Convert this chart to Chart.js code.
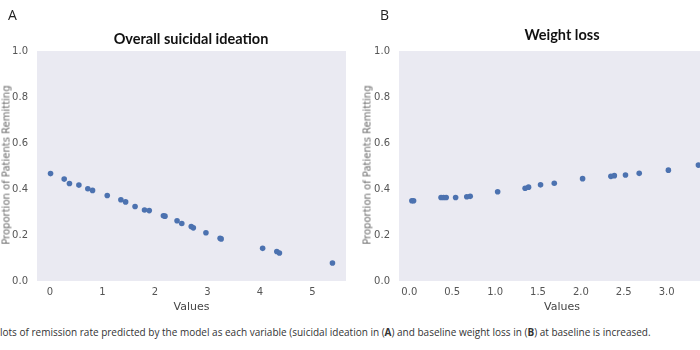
<!DOCTYPE html>
<html><head><meta charset="utf-8">
<script src="https://cdn.jsdelivr.net/npm/chart.js@4/dist/chart.umd.min.js"></script>
<style>
html,body{margin:0;padding:0;width:700px;height:350px;overflow:hidden;background:#fff;position:relative;}
.cv{position:absolute;top:0;}
.t{position:absolute;white-space:nowrap;}
.panel{font-family:"Open Sans";font-size:14px;color:#222;}
.title{font-family:Lato;font-weight:700;font-size:14.5px;color:#111;transform:translateX(-50%);}
.ytitle{font-family:"DejaVu Sans";font-size:10px;color:#6a6a6a;transform:translate(-50%,-50%) rotate(-90deg);}
.caption{font-family:"Open Sans";font-size:10px;color:#333;}
</style></head>
<body>
<canvas id="cA" class="cv" style="left:0px" width="350" height="320"></canvas>
<canvas id="cB" class="cv" style="left:362px" width="367" height="320"></canvas>
<div class="t panel" style="left:8px;top:5px;">A</div>
<div class="t panel" style="left:380px;top:5px;">B</div>
<div class="t title" style="left:191px;top:30px;">Overall suicidal ideation</div>
<div class="t title" style="left:562px;top:26px;">Weight loss</div>
<div class="t ytitle" style="left:6px;top:165px;">Proportion of Patients Remitting</div>
<div class="t ytitle" style="left:367px;top:165px;">Proportion of Patients Remitting</div>
<div class="t caption" style="left:-6px;top:325px;">Plots of remission rate predicted by the model as each variable (suicidal ideation in (<b>A</b>) and baseline weight loss in (<b>B</b>) at baseline is increased.</div>
<script>
// Panel A: overall suicidal ideation
const suicidalX = [0.01,0.27,0.37,0.55,0.72,0.81,1.09,1.35,1.44,1.62,1.80,1.89,2.16,2.19,2.42,2.51,2.69,2.73,2.97,3.24,3.26,4.05,4.32,4.37,5.38];
const suicidalY = [0.467,0.443,0.424,0.417,0.401,0.394,0.372,0.353,0.344,0.324,0.309,0.306,0.284,0.282,0.262,0.250,0.237,0.231,0.210,0.186,0.183,0.142,0.128,0.122,0.078];
// Panel B: weight loss
const weightX = [0.03,0.05,0.37,0.40,0.43,0.54,0.67,0.71,1.03,1.35,1.39,1.53,1.69,2.02,2.35,2.39,2.52,2.68,3.02,3.37];
const weightY = [0.349,0.349,0.363,0.363,0.363,0.363,0.366,0.368,0.388,0.403,0.408,0.418,0.425,0.445,0.455,0.458,0.461,0.468,0.482,0.504];
// Tick labels
const yTicks = [0.0,0.2,0.4,0.6,0.8,1.0];
const xTicksA = [0,1,2,3,4,5];
const xTicksB = [0.0,0.5,1.0,1.5,2.0,2.5,3.0];

const bgPlugin = {
  id:'bg',
  beforeDraw(chart){
    const a = chart.chartArea, c = chart.ctx;
    c.save(); c.fillStyle = '#EAEAF2'; c.fillRect(a.left, a.top, a.right-a.left, a.bottom-a.top); c.restore();
  }
};

function makeChart(id, xs, ys, xTicks, xmin, xmax, decimals){
  const pts = xs.map((x,i)=>({x:x, y:ys[i]}));
  return new Chart(document.getElementById(id), {
    type:'scatter',
    data:{datasets:[{data:pts, backgroundColor:'#4C72B0', borderWidth:0, pointRadius:2.8, pointHoverRadius:2.8}]},
    plugins:[bgPlugin],
    options:{
      responsive:false, animation:false, devicePixelRatio:1,
      layout:{padding:{top:51, right:4, left:0, bottom:6}},
      plugins:{legend:{display:false}, tooltip:{enabled:false}},
      scales:{
        x:{type:'linear', min:xmin, max:xmax,
          afterBuildTicks(s){ s.ticks = xTicks.map(v=>({value:v})); },
          afterFit(s){ s.height = 33; },
          grid:{display:false, drawTicks:false}, border:{display:false},
          ticks:{padding:5, color:'#555', font:{family:'DejaVu Sans', size:10},
            callback:(v)=>Number(v).toFixed(decimals)},
          title:{display:true, text:'Values', color:'#444', font:{family:'DejaVu Sans', size:11}, padding:{top:1,bottom:0}}
        },
        y:{type:'linear', min:0, max:1,
          afterBuildTicks(s){ s.ticks = yTicks.map(v=>({value:v})); },
          afterFit(s){ s.width = 37; },
          grid:{display:false, drawTicks:false}, border:{display:false},
          ticks:{padding:9, color:'#555', font:{family:'DejaVu Sans', size:10},
            callback:(v)=>Number(v).toFixed(1)}
        }
      }
    }
  });
}
makeChart('cA', suicidalX, suicidalY, xTicksA, -0.248, 5.638, 0);
makeChart('cB', weightX, weightY, xTicksB, -0.12, 3.68, 1);
</script>
</body></html>
